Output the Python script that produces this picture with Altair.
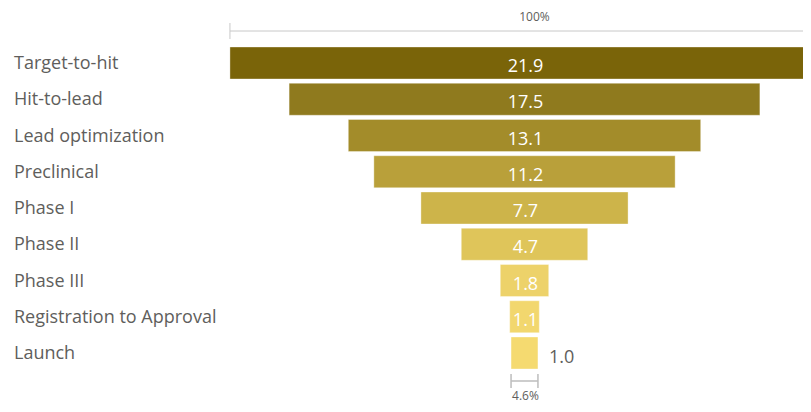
import altair as alt
import pandas as pd

stages = ["Target-to-hit", "Hit-to-lead", "Lead optimization", "Preclinical",
          "Phase I", "Phase II", "Phase III", "Registration to Approval", "Launch"]
values = [21.9, 17.5, 13.1, 11.2, 7.7, 4.7, 1.8, 1.1, 1.0]
colors = ["#7A6409", "#8F7A1E", "#A38C2A", "#B9A03A", "#CDB44A",
          "#DFC55A", "#EDD26A", "#F2D76E", "#F5DA70"]
top_label = "100%"
bottom_label = "4.6%"

df = pd.DataFrame({"stage": stages, "value": values, "color": colors,
                   "idx": list(range(len(stages)))})
df["lo"] = -df["value"] / 2
df["hi"] = df["value"] / 2
df["y0"] = df["idx"] - 0.441
df["y1"] = df["idx"] + 0.441
df["label"] = df["value"].map(lambda v: f"{v:.1f}")

W, H = 795, 396
k = 26.9
cx = 516.5
xdom = [-cx / k, (W - cx) / k]
y0, pitch = 55, 36.25
ydom = [-y0 / pitch, (H - y0) / pitch]

xs = alt.Scale(domain=xdom, range=[0, W], nice=False, zero=False)
ys = alt.Scale(domain=ydom, range=[0, H], nice=False, zero=False)

base = alt.Chart(df)

bars = base.mark_bar(clip=True, stroke="#FFFFFF", strokeOpacity=0.35, strokeWidth=1).encode(
    x=alt.X("lo:Q", scale=xs, axis=None),
    x2="hi:Q",
    y=alt.Y("y0:Q", scale=ys, axis=None),
    y2="y1:Q",
    color=alt.Color("color:N", scale=None),
)

font = "Open Sans"
gray = "#605E5C"

inside = base.transform_filter("datum.value > 1.05").mark_text(
    color="white", fontSize=18, font=font, align="center", baseline="middle", dy=4
).encode(x=alt.value(cx + 1), y=alt.Y("idx:Q", scale=ys), text="label:N")

outside = base.transform_filter("datum.value <= 1.05").mark_text(
    color=gray, fontSize=18, font=font, align="left", baseline="middle", dx=11, dy=5
).encode(x=alt.X("hi:Q", scale=xs), y=alt.Y("idx:Q", scale=ys), text="label:N")

cats = base.mark_text(
    color=gray, fontSize=18, font=font, align="left", baseline="middle", dy=1
).encode(x=alt.value(6), y=alt.Y("idx:Q", scale=ys), text="stage:N")

first = df.iloc[[0]]
last = df.iloc[[-1]]

top_line = alt.Chart(first).mark_rule(color="#C8C8C8", strokeWidth=1).encode(
    x=alt.X("lo:Q", scale=xs), x2=alt.value(W), y=alt.value(23))
top_tick = alt.Chart(first).mark_rule(color="#C8C8C8", strokeWidth=1).encode(
    x=alt.X("lo:Q", scale=xs), y=alt.value(15), y2=alt.value(31))
top_text = alt.Chart(pd.DataFrame({"t": [top_label]})).mark_text(
    color=gray, fontSize=12, font=font, align="center", baseline="middle"
).encode(x=alt.value(cx + 10), y=alt.value(9), text="t:N")

bot_line = alt.Chart(last).mark_rule(color="#BDBDBD", strokeWidth=1.5).encode(
    x=alt.X("lo:Q", scale=xs), x2=alt.X2("hi:Q"), y=alt.value(373))
bot_tick_l = alt.Chart(last).mark_rule(color="#BDBDBD", strokeWidth=1.5).encode(
    x=alt.X("lo:Q", scale=xs), y=alt.value(366), y2=alt.value(380))
bot_tick_r = alt.Chart(last).mark_rule(color="#BDBDBD", strokeWidth=1.5).encode(
    x=alt.X("hi:Q", scale=xs), y=alt.value(366), y2=alt.value(380))
bot_text = alt.Chart(pd.DataFrame({"t": [bottom_label]})).mark_text(
    color=gray, fontSize=12, font=font, align="center", baseline="middle"
).encode(x=alt.value(cx + 1), y=alt.value(388), text="t:N")

chart = alt.layer(
    bars, inside, outside, cats, top_line, top_tick, top_text,
    bot_line, bot_tick_l, bot_tick_r, bot_text
).properties(
    width=W, height=H, padding=0, autosize=alt.AutoSizeParams(type="none")
).configure_view(stroke=None)

chart.save("out.html", embed_options={"renderer": "svg", "actions": False})
